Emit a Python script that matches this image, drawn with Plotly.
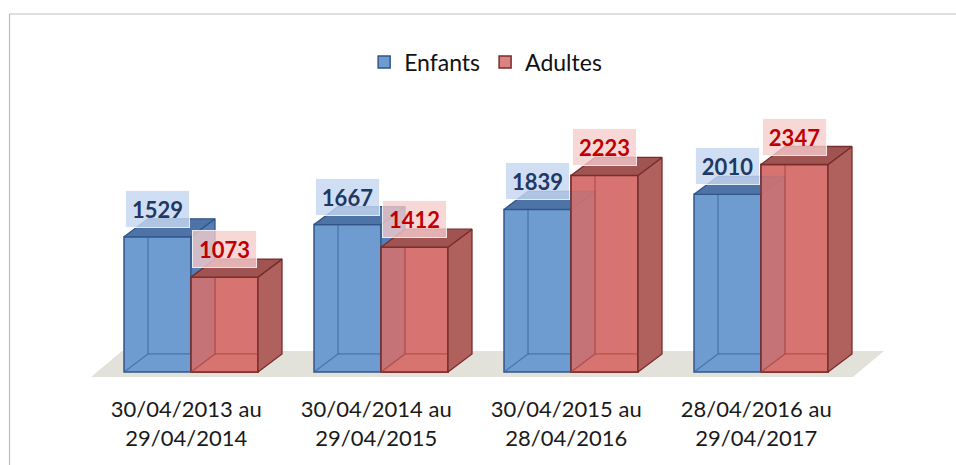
import plotly.graph_objects as go

# ---------------- data ----------------
categories = [
    "30/04/2013 au<br>29/04/2014",
    "30/04/2014 au<br>29/04/2015",
    "30/04/2015 au<br>28/04/2016",
    "28/04/2016 au<br>29/04/2017",
]
enfants = [1529, 1667, 1839, 2010]
adultes = [1073, 1412, 2223, 2347]
series_names = ["Enfants", "Adultes"]

# ---------------- geometry / style ----------------
X_RANGE = [-1.0053, 4.0263]
Y_RANGE = [-204, 4208]
BAR_W = 0.3526          # width of one bar (axis units)
DX = 0.1263             # 3D depth offset, x (axis units)
DY = 203.6              # 3D depth offset, y (axis units)
FONT = "Lato"

BLUE = dict(front="rgb(110,155,208)", side="rgb(86,126,181)", top="rgb(78,115,166)",
            edge="rgb(50,86,136)", inner="rgba(60,100,160,0.7)",
            lbl_bg="rgba(196,215,240,0.82)", lbl_txt="#1F3864")
RED = dict(front="rgba(214,114,110,0.88)", side="rgb(176,97,93)", top="rgb(160,84,82)",
           edge="rgb(120,45,43)", inner="rgba(165,66,62,0.7)",
           lbl_bg="rgba(246,204,204,0.78)", lbl_txt="#C00000")
FLOOR_COLOR = "rgb(226,225,218)"

fig = go.Figure()

idx = list(range(len(categories)))

# front faces as real bars
fig.add_trace(go.Bar(x=idx, y=enfants, name=series_names[0], width=BAR_W, offset=-BAR_W,
                     marker=dict(color=BLUE["front"], line=dict(color=BLUE["edge"], width=1.5))))
fig.add_trace(go.Bar(x=idx, y=adultes, name=series_names[1], width=BAR_W, offset=0,
                     marker=dict(color=RED["front"], line=dict(color=RED["edge"], width=1.5))))


def poly(xs, ys, fill, edge, width=1.3):
    fig.add_trace(go.Scatter(x=xs, y=ys, mode="lines", fill="toself", fillcolor=fill,
                             line=dict(color=edge, width=width), showlegend=False,
                             hoverinfo="skip"))


def box3d(x0, h, c, draw_front):
    x1 = x0 + BAR_W
    if draw_front:
        poly([x0, x1, x1, x0, x0], [0, 0, h, h, 0], c["front"], c["edge"], 1.5)
    # inner back edges seen through the transparent front
    fig.add_trace(go.Scatter(
        x=[x0, x0 + DX, x0 + DX, None, x0 + DX, x1 + DX],
        y=[0, DY, h + DY, None, DY, DY],
        mode="lines", line=dict(color=c["inner"], width=1.3),
        showlegend=False, hoverinfo="skip"))
    poly([x1, x1 + DX, x1 + DX, x1, x1], [0, DY, h + DY, h, 0], c["side"], c["edge"])
    poly([x0, x1, x1 + DX, x0 + DX, x0], [h, h, h + DY, h + DY, h], c["top"], c["edge"])


for i, (e, a) in enumerate(zip(enfants, adultes)):
    box3d(i - BAR_W, e, BLUE, False)
    box3d(i, a, RED, True)

annotations = []
for i, (e, a) in enumerate(zip(enfants, adultes)):
    for val, xc, c in [(e, i - BAR_W / 2, BLUE), (a, i + BAR_W / 2, RED)]:
        annotations.append(dict(
            x=xc, y=val, xref="x", yref="y", text=f"<b>{val}</b>", showarrow=False,
            yanchor="bottom", yshift=9, bgcolor=c["lbl_bg"],
            bordercolor="rgba(255,255,255,0.8)", borderwidth=1, borderpad=0,
            width=63, height=36, font=dict(family=FONT, size=22, color=c["lbl_txt"])))

# floor (decorative, below the bars)
fl_xl, fl_xr, fl_sl, fl_yf, fl_yb = -0.526, 3.484, 0.163, -57, 238
floor_path = (f"M {fl_xl},{fl_yf} L {fl_xr},{fl_yf} L {fl_xr + fl_sl},{fl_yb} "
              f"L {fl_xl + fl_sl},{fl_yb} Z")

fig.update_layout(
    width=956, height=465,
    margin=dict(l=0, r=0, t=0, b=75),
    paper_bgcolor="white", plot_bgcolor="white",
    barmode="overlay",
    showlegend=True,
    legend=dict(orientation="h", x=0.508, xanchor="center", y=1 - 62 / 390,
                yanchor="middle", font=dict(family=FONT, size=23, color="#111"),
                bgcolor="rgba(0,0,0,0)", traceorder="normal"),
    xaxis=dict(range=X_RANGE, tickvals=[i - 0.025 for i in idx], ticktext=categories,
               showgrid=False, zeroline=False, showline=False, ticks="",
               ticklabelstandoff=4,
               tickfont=dict(family=FONT, size=22, color="#1a1a1a"), fixedrange=True),
    yaxis=dict(range=Y_RANGE, visible=False, showgrid=False, zeroline=False, fixedrange=True),
    annotations=annotations,
    shapes=[
        dict(type="rect", xref="paper", yref="paper",
             x0=9.5 / 956, x1=1.02, y0=-0.25, y1=1 - 14 / 390,
             line=dict(color="#BDBDBD", width=1.2), fillcolor="rgba(0,0,0,0)",
             layer="below"),
        dict(type="path", xref="x", yref="y", path=floor_path,
             fillcolor=FLOOR_COLOR, line=dict(width=0), layer="below"),
    ],
    font=dict(family=FONT),
)

fig.write_html("out.html", config={"displayModeBar": False},
               post_script="document.body.style.margin='0';document.body.style.overflow='hidden';")
